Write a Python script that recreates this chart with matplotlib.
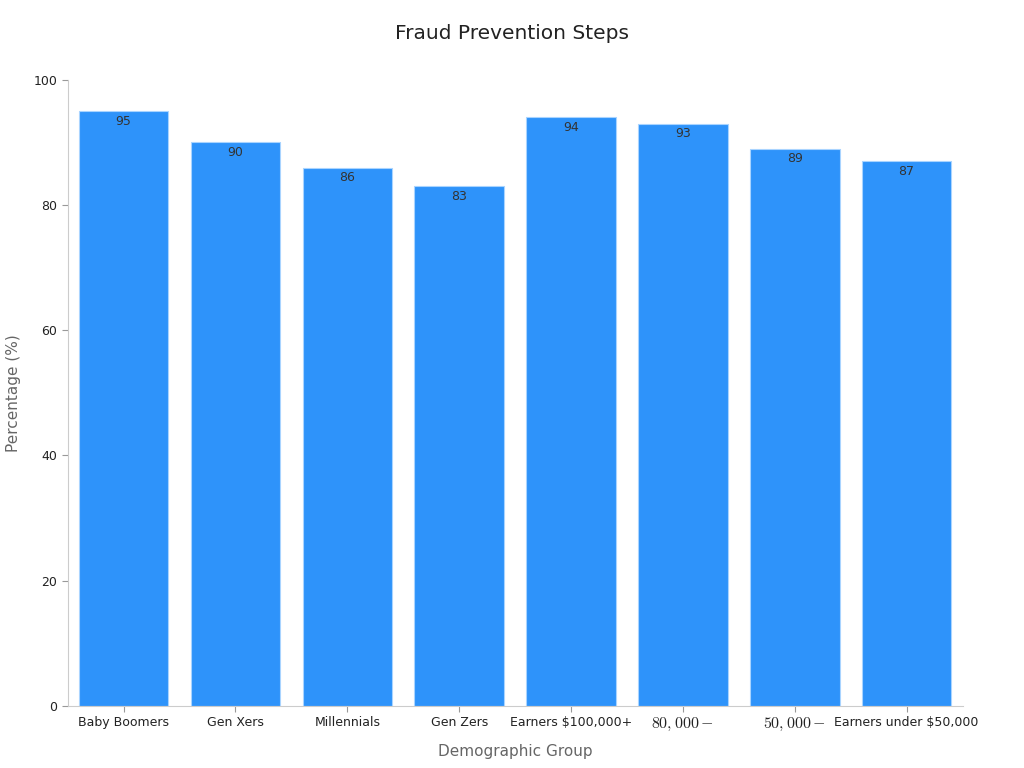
import matplotlib
matplotlib.use("Agg")
import matplotlib.pyplot as plt

plt.rcParams["mathtext.fontset"] = "cm"

categories = ["Baby Boomers", "Gen Xers", "Millennials", "Gen Zers",
              "Earners $100,000+", r"$80,000-$", r"$50,000-$", "Earners under $50,000"]
values = [95, 90, 86, 83, 94, 93, 89, 87]

fig = plt.figure(figsize=(10.24, 7.68), dpi=100)
ax = fig.add_axes([0.066, 0.081, 0.874, 0.815])
x = list(range(len(categories)))
bars = ax.bar(x, values, width=0.8, color="#2E93FA", edgecolor="#A9D4FF", linewidth=0.8)
for xi, v in zip(x, values):
    ax.text(xi, v - 0.55, str(v), ha="center", va="top", fontsize=9, color="#333333")
ax.set_xlim(-0.5, 7.5)
ax.set_ylim(0, 100)
ax.set_yticks([0, 20, 40, 60, 80, 100])
ax.set_xticks(x)
ax.set_xticklabels(categories, fontsize=9, color="#222222")
for lbl in ax.get_xticklabels():
    if lbl.get_text().startswith("$"):
        lbl.set_fontsize(11.5)
ax.tick_params(axis="y", labelsize=9, colors="#222222")
ax.tick_params(axis="both", color="#999999", length=4)
for s in ["top", "right"]:
    ax.spines[s].set_visible(False)
for s in ["left", "bottom"]:
    ax.spines[s].set_color("#CCCCCC")
ax.set_xlabel("Demographic Group", fontsize=11, color="#666666", labelpad=8)
ax.set_ylabel("Percentage (%)", fontsize=11, color="#666666", labelpad=9)
fig.text(0.5, 0.957, "Fraud Prevention Steps", ha="center", va="center", fontsize=14.5, color="#222222")
fig.savefig("out.png", dpi=100)
